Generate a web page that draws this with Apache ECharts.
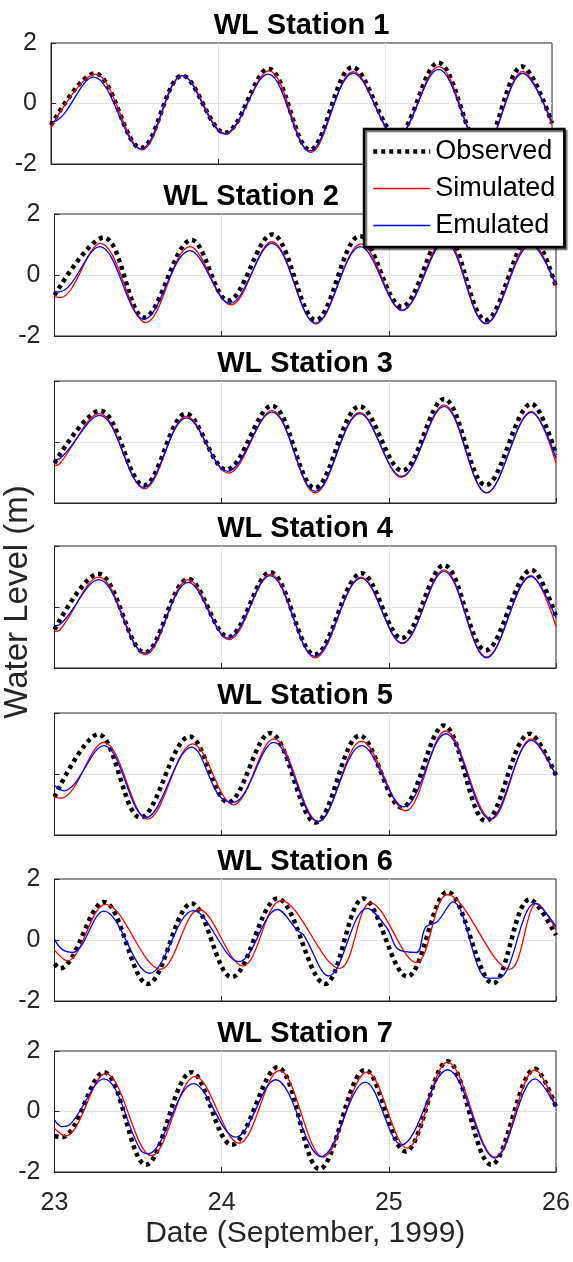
<!DOCTYPE html>
<html>
<head>
<meta charset="utf-8">
<title>WL Stations</title>
<script src="https://cdn.jsdelivr.net/npm/echarts@6/dist/echarts.min.js"></script>
<style>
  html, body { margin: 0; padding: 0; background: #ffffff; }
  #chart { width: 573px; height: 1262px; }
</style>
</head>
<body>
<div id="chart"></div>
<script>
// Water level (m) at seven stations, 23-26 September 1999.
// Each pair is [day of month, water level].
const stationNames = ['WL Station 1', 'WL Station 2', 'WL Station 3', 'WL Station 4',
                      'WL Station 5', 'WL Station 6', 'WL Station 7'];
const seriesNames = ['Observed', 'Simulated', 'Emulated'];
const xTicks = [23, 24, 25, 26];
const yTicks = [-2, 0, 2];

const obs1 = [[23.0,-0.72],[23.262,1.0],[23.539,-1.47],[23.786,0.92],[24.041,-0.97],[24.303,1.15],[24.55,-1.53],[24.806,1.2],[25.07,-1.05],[25.319,1.35],[25.58,-1.5],[25.821,1.22],[26.0,-0.65]];
const sim1 = [[23.0,-0.78],[23.265,0.97],[23.545,-1.53],[23.788,0.92],[24.045,-1.0],[24.305,1.08],[24.555,-1.62],[24.81,1.05],[25.07,-1.1],[25.322,1.22],[25.585,-1.55],[25.825,1.06],[26.0,-0.7]];
const emu1 = [[23.0,-0.6],[23.03,-0.58],[23.255,0.87],[23.54,-1.5],[23.786,0.92],[24.04,-1.0],[24.3,0.97],[24.55,-1.57],[24.81,1.0],[25.07,-1.1],[25.32,1.13],[25.585,-1.55],[25.825,1.0],[26.0,-0.62]];

const obs2 = [[23.0,-0.66],[23.295,1.23],[23.536,-1.39],[23.82,1.15],[24.039,-0.84],[24.301,1.33],[24.563,-1.48],[24.826,1.28],[25.077,-1.04],[25.335,1.4],[25.58,-1.48],[25.85,1.3],[26.0,-0.38]];
const sim2 = [[23.0,-0.71],[23.035,-0.74],[23.275,1.04],[23.547,-1.56],[23.81,0.93],[24.055,-0.98],[24.3,1.09],[24.564,-1.6],[24.835,1.02],[25.08,-1.17],[25.335,1.2],[25.58,-1.58],[25.85,1.1],[26.0,-0.38]];
const emu2 = [[23.0,-0.55],[23.03,-0.55],[23.27,0.93],[23.535,-1.45],[23.81,0.8],[24.05,-0.93],[24.3,1.04],[24.563,-1.58],[24.83,0.93],[25.08,-1.15],[25.335,1.1],[25.58,-1.6],[25.85,1.0],[26.0,-0.3]];

const obs3 = [[23.0,-0.69],[23.273,1.03],[23.536,-1.42],[23.787,0.93],[24.028,-0.91],[24.3,1.19],[24.557,-1.51],[24.826,1.17],[25.08,-0.94],[25.33,1.41],[25.58,-1.42],[25.853,1.25],[26.0,-0.42]];
const sim3 = [[23.0,-0.77],[23.03,-0.72],[23.27,0.93],[23.538,-1.53],[23.79,0.84],[24.04,-1.02],[24.3,1.03],[24.56,-1.67],[24.826,0.97],[25.075,-1.16],[25.33,1.22],[25.585,-1.67],[25.853,1.0],[26.0,-0.69]];
const emu3 = [[23.0,-0.58],[23.03,-0.55],[23.27,0.87],[23.535,-1.49],[23.79,0.79],[24.035,-0.96],[24.3,0.98],[24.56,-1.62],[24.826,0.93],[25.075,-1.13],[25.33,1.17],[25.585,-1.67],[25.853,0.97],[26.0,-0.52]];

const obs4 = [[23.0,-0.74],[23.262,1.09],[23.54,-1.49],[23.8,0.92],[24.04,-0.98],[24.29,1.14],[24.557,-1.56],[24.837,1.11],[25.077,-1.02],[25.33,1.37],[25.58,-1.42],[25.853,1.22],[26.0,-0.31]];
const sim4 = [[23.0,-0.8],[23.03,-0.76],[23.265,0.98],[23.545,-1.56],[23.8,0.9],[24.045,-1.07],[24.29,1.08],[24.56,-1.67],[24.835,0.98],[25.08,-1.2],[25.33,1.22],[25.585,-1.64],[25.85,1.03],[26.0,-0.63]];
const emu4 = [[23.0,-0.61],[23.03,-0.58],[23.265,0.9],[23.54,-1.51],[23.8,0.81],[24.04,-1.02],[24.29,1.03],[24.557,-1.62],[24.835,0.95],[25.08,-1.18],[25.33,1.17],[25.585,-1.67],[25.85,1.0],[26.0,-0.36]];

const obs5 = [[23.0,-0.75],[23.262,1.3],[23.514,-1.43],[23.809,1.23],[24.039,-0.93],[24.29,1.34],[24.563,-1.59],[24.826,1.26],[25.077,-1.1],[25.329,1.59],[25.58,-1.54],[25.843,1.32],[26.0,-0.05]];
const sim5 = [[23.0,-0.75],[23.04,-0.79],[23.295,1.04],[23.557,-1.48],[23.827,0.99],[24.07,-1.01],[24.312,1.15],[24.58,-1.56],[24.837,1.08],[25.1,-1.21],[25.34,1.41],[25.613,-1.48],[25.853,1.15],[26.0,-0.05]];
const emu5 = [[23.0,-0.38],[23.055,-0.55],[23.295,0.93],[23.547,-1.43],[23.82,0.88],[23.985,-0.72],[24.07,-0.93],[24.312,1.04],[24.575,-1.56],[24.837,0.93],[25.09,-1.08],[25.34,1.32],[25.605,-1.48],[25.853,1.1],[26.0,-0.05]];

const obs6 = [[23.0,-0.78],[23.033,-0.93],[23.295,1.25],[23.558,-1.44],[23.82,1.2],[24.06,-1.22],[24.334,1.36],[24.618,-1.44],[24.848,1.36],[25.11,-1.2],[25.351,1.58],[25.624,-1.42],[25.843,1.33],[26.0,0.16]];
const sim6 = [[23.0,-0.33],[23.077,-0.68],[23.306,1.17],[23.634,-0.96],[23.864,1.0],[24.126,-0.85],[24.356,1.29],[24.706,-0.93],[24.891,1.22],[25.165,-0.74],[25.351,1.49],[25.722,-0.96],[25.886,1.2],[26.0,0.33]];
const emu6 = [[23.0,0.02],[23.044,-0.3],[23.109,-0.41],[23.295,0.95],[23.569,-1.09],[23.831,0.96],[24.104,-0.71],[24.334,1.0],[24.455,0.3],[24.49,0.17],[24.64,-1.18],[24.87,1.04],[24.99,0.38],[25.055,-0.3],[25.165,-0.41],[25.22,0.42],[25.29,0.6],[25.383,1.25],[25.59,-1.25],[25.657,-1.25],[25.875,1.2],[26.0,0.44]];

const obs7 = [[23.0,-0.81],[23.044,-0.85],[23.295,1.3],[23.547,-1.76],[23.82,1.3],[24.06,-1.1],[24.334,1.46],[24.585,-1.9],[24.859,1.38],[25.099,-1.32],[25.351,1.66],[25.613,-1.76],[25.875,1.41],[26.0,0.15]];
const sim7 = [[23.0,-0.56],[23.066,-0.81],[23.306,1.25],[23.58,-1.46],[23.842,1.16],[24.104,-1.05],[24.345,1.36],[24.607,-1.51],[24.87,1.3],[25.11,-1.21],[25.351,1.63],[25.635,-1.51],[25.875,1.38],[26.0,0.15]];
const emu7 = [[23.0,-0.28],[23.044,-0.5],[23.088,-0.45],[23.295,1.08],[23.514,-1.27],[23.558,-1.4],[23.831,0.92],[24.083,-0.85],[24.323,1.05],[24.596,-1.49],[24.859,0.97],[25.077,-1.1],[25.351,1.38],[25.635,-1.54],[25.875,1.08],[26.0,0.17]];

const observed = [obs1, obs2, obs3, obs4, obs5, obs6, obs7];
const simulated = [sim1, sim2, sim3, sim4, sim5, sim6, sim7];
const emulated = [emu1, emu2, emu3, emu4, emu5, emu6, emu7];

// Panel boxes (pixels): left, top, right, bottom
const boxes = [
  [51, 43, 552, 164],
  [54.5, 214, 556, 336],
  [54.5, 381, 556, 503],
  [54.5, 546, 556, 668],
  [54.5, 713, 556, 835],
  [54.5, 879, 556, 1001],
  [54.5, 1051, 556, 1172]
];
// Title centre x; the second title sits left of the legend
const titleX = [301.5, 251, 305, 305, 305, 305, 305];
const showYLabels = [true, true, false, false, false, true, true];

const axisColor = '#262626';
const gridColor = '#e3e3e3';
const font = 'Arial, "Liberation Sans", Helvetica, sans-serif';

const grids = [], xAxes = [], yAxes = [], series = [], graphics = [];

boxes.forEach((b, i) => {
  const [l, t, r, bt] = b;
  const last = i === boxes.length - 1;
  grids.push({
    left: l, top: t, width: r - l, height: bt - t,
    show: true, borderColor: axisColor, borderWidth: 1, backgroundColor: '#ffffff'
  });
  xAxes.push({
    type: 'value', gridIndex: i, min: xTicks[0], max: xTicks[xTicks.length - 1], interval: 1,
    axisLine: { show: true, onZero: false, lineStyle: { color: axisColor, width: 1 } },
    axisTick: { show: true, inside: true, length: 5, lineStyle: { color: axisColor } },
    splitLine: { show: true, showMinLine: false, showMaxLine: false, lineStyle: { color: gridColor, width: 1 } },
    axisLabel: {
      show: last, margin: 19, color: axisColor, fontSize: 25, fontFamily: font
    },
    name: last ? 'Date (September, 1999)' : '',
    nameLocation: 'middle', nameGap: 47,
    nameTextStyle: { color: axisColor, fontSize: 30, fontFamily: font }
  });
  yAxes.push({
    type: 'value', gridIndex: i, min: yTicks[0], max: yTicks[yTicks.length - 1], interval: 2,
    axisLine: { show: true, onZero: false, lineStyle: { color: axisColor, width: 1 } },
    axisTick: { show: true, inside: true, length: 5, lineStyle: { color: axisColor } },
    splitLine: { show: true, showMinLine: false, showMaxLine: false, lineStyle: { color: gridColor, width: 1 } },
    axisLabel: { show: showYLabels[i], margin: 14, color: axisColor, fontSize: 25, fontFamily: font }
  });
  series.push({
    name: seriesNames[0], type: 'line', xAxisIndex: i, yAxisIndex: i,
    data: observed[i], symbol: 'none', smooth: 0.36, z: 2,
    itemStyle: { color: '#000000' },
    lineStyle: { color: '#000000', width: 4.5, type: [4, 4], cap: 'butt' }
  });
  series.push({
    name: seriesNames[1], type: 'line', xAxisIndex: i, yAxisIndex: i,
    data: simulated[i], symbol: 'none', smooth: 0.36, z: 3,
    itemStyle: { color: '#ff0000' },
    lineStyle: { color: '#ff0000', width: 1.3 }
  });
  series.push({
    name: seriesNames[2], type: 'line', xAxisIndex: i, yAxisIndex: i,
    data: emulated[i], symbol: 'none', smooth: 0.36, z: 4,
    itemStyle: { color: '#0000ff' },
    lineStyle: { color: '#0000ff', width: 1.3 }
  });
  graphics.push({
    type: 'text', x: titleX[i], y: t - 17,
    style: {
      text: stationNames[i], textAlign: 'center', textVerticalAlign: 'middle',
      font: 'bold 29px ' + font, fill: '#000000'
    }
  });
});

graphics.push({
  type: 'text', x: 18, y: 602, rotation: Math.PI / 2,
  style: {
    text: 'Water Level (m)', textAlign: 'center', textVerticalAlign: 'middle',
    font: '33px ' + font, fill: axisColor
  }
});

const chart = echarts.init(document.getElementById('chart'), null, { renderer: 'canvas' });
chart.setOption({
  animation: false,
  backgroundColor: '#ffffff',
  grid: grids,
  xAxis: xAxes,
  yAxis: yAxes,
  series: series,
  graphic: graphics,
  legend: {
    orient: 'vertical', left: 364, top: 129, z: 20,
    padding: [9, 9, 8, 7], itemGap: 10, itemWidth: 57, itemHeight: 14,
    backgroundColor: '#ffffff', borderColor: '#000000', borderWidth: 2.5,
    shadowColor: 'rgba(0,0,0,0.55)', shadowOffsetX: 2, shadowOffsetY: 2, shadowBlur: 1,
    textStyle: { fontSize: 27, color: '#000000', fontFamily: font },
    itemStyle: { opacity: 0 },
    data: [
      { name: 'Observed', itemStyle: { opacity: 0 }, lineStyle: { color: '#000000', width: 4.5, type: [4, 4] } },
      { name: 'Simulated', itemStyle: { opacity: 0 }, lineStyle: { color: '#ff0000', width: 1.3 } },
      { name: 'Emulated', itemStyle: { opacity: 0 }, lineStyle: { color: '#0000ff', width: 1.3 } }
    ]
  }
});
</script>
</body>
</html>
